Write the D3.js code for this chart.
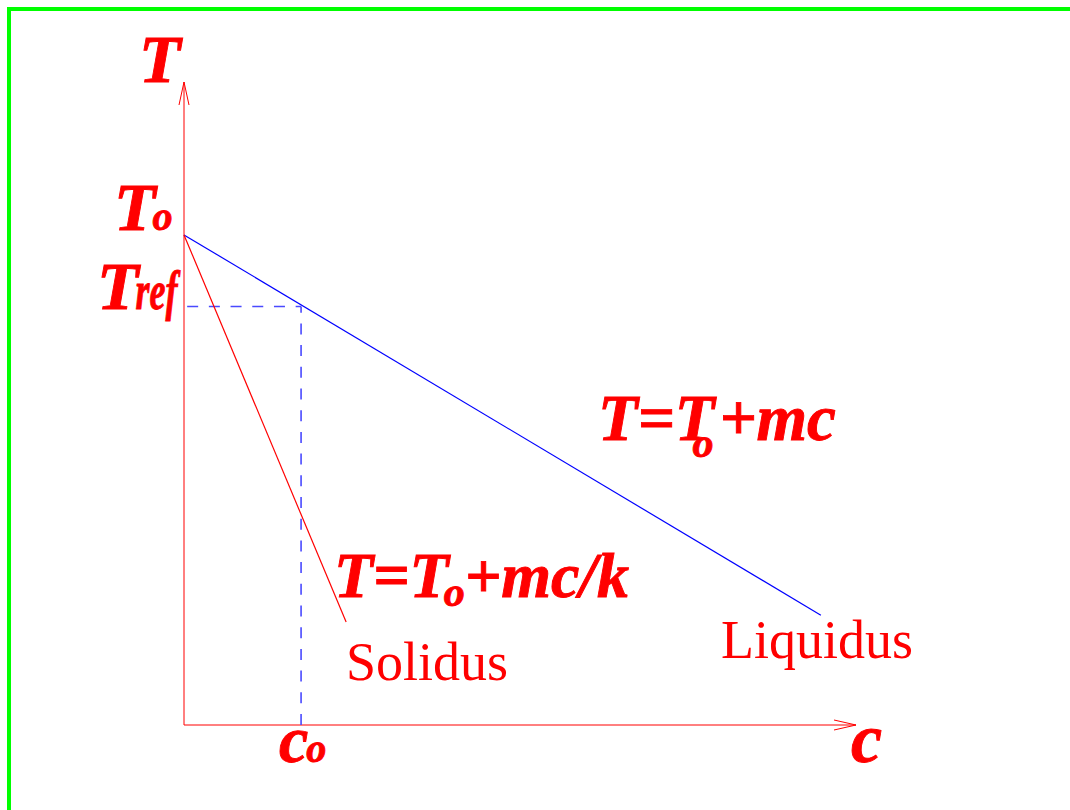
<!DOCTYPE html>
<html>
<head>
<meta charset="utf-8">
<script src="https://cdn.jsdelivr.net/npm/d3@7/dist/d3.min.js"></script>
<style>
  html, body { margin: 0; padding: 0; background: #fff; }
  svg { display: block; }
  text { font-family: "Liberation Serif", "Times New Roman", serif; fill: #ff0000; }
  .math { font-weight: bold; font-style: italic; stroke: #ff0000; stroke-width: 0.9; }
</style>
</head>
<body>
<svg id="chart" width="1070" height="810"></svg>
<script>
// Phase diagram: concentration c (horizontal) vs temperature T (vertical)
const cMax = 5.74;          // end of the c axis
const tMax = 1.312;         // end of the T axis
const T0 = 1.0;             // melting temperature of the pure solvent
const c0 = 1.0;             // alloy concentration
const Tref = 0.854;         // liquidus temperature at c0

// Liquidus: T = To + m c
const liquidusC = [0, 5.44];
const liquidusT = [1.0, 0.224];
// Solidus: T = To + m c / k
const solidusC = [0, 1.385];
const solidusT = [1.0, 0.21];

const svg = d3.select("#chart");

// frame lines along the top and left edges
svg.append("rect").attr("x", 7).attr("y", 7).attr("width", 1063).attr("height", 4).attr("fill", "#00ff00");
svg.append("rect").attr("x", 7).attr("y", 7).attr("width", 4).attr("height", 803).attr("fill", "#00ff00");

const x = d3.scaleLinear().domain([0, cMax]).range([184, 856]);
const y = d3.scaleLinear().domain([0, tMax]).range([725, 82]);

const line = d3.line().x(d => x(d[0])).y(d => y(d[1]));

// axes with open arrowheads
const axisColor = "#ff0000";
svg.append("path").attr("d", line([[0, 0], [cMax, 0]]))
  .attr("stroke", axisColor).attr("stroke-width", 1).attr("fill", "none");
svg.append("path").attr("d", line([[0, 0], [0, tMax]]))
  .attr("stroke", axisColor).attr("stroke-width", 1).attr("fill", "none");

const xe = x(cMax), ye = y(0);
svg.append("path")
  .attr("d", `M${xe - 22},${ye - 5} L${xe},${ye} L${xe - 22},${ye + 5}`)
  .attr("stroke", axisColor).attr("stroke-width", 1).attr("fill", "none");
const xt = x(0), yt = y(tMax);
svg.append("path")
  .attr("d", `M${xt - 5},${yt + 23} L${xt},${yt} L${xt + 5},${yt + 23}`)
  .attr("stroke", axisColor).attr("stroke-width", 1).attr("fill", "none");

// dashed guides from c0 up to the liquidus and across to Tref
svg.append("path").attr("d", line([[c0, 0], [c0, Tref]]))
  .attr("stroke", "#4a4aff").attr("stroke-width", 1.6).attr("fill", "none")
  .attr("stroke-dasharray", "11,10.7");
svg.append("path").attr("d", line([[0.027, Tref], [c0, Tref]]))
  .attr("stroke", "#4a4aff").attr("stroke-width", 1.6).attr("fill", "none")
  .attr("stroke-dasharray", "11,10.7");

// liquidus and solidus
svg.append("path").attr("d", line(liquidusC.map((c, i) => [c, liquidusT[i]])))
  .attr("stroke", "#0000ff").attr("stroke-width", 1.2).attr("fill", "none");
svg.append("path").attr("d", line(solidusC.map((c, i) => [c, solidusT[i]])))
  .attr("stroke", "#ff0000").attr("stroke-width", 1.2).attr("fill", "none");

// axis labels
svg.append("text").attr("class", "math").attr("x", 139).attr("y", 82)
  .attr("font-size", 68).text("T");
svg.append("text").attr("class", "math").attr("x", 851).attr("y", 762)
  .attr("font-size", 70).text("c");

// T0 label
const t0Label = svg.append("text").attr("class", "math").attr("x", 114).attr("y", y(T0) - 5);
t0Label.append("tspan").attr("font-size", 68).text("T");
t0Label.append("tspan").attr("font-size", 40).attr("dx", -3).text("o");

// Tref label
const trefLabel = svg.append("text").attr("class", "math").attr("x", 97).attr("y", y(Tref) + 3);
trefLabel.append("tspan").attr("font-size", 68).text("T");
trefLabel.append("tspan").attr("font-size", 54).attr("dx", -3)
  .attr("textLength", 42).attr("lengthAdjust", "spacingAndGlyphs").text("ref");

// c0 label
const c0Label = svg.append("text").attr("class", "math").attr("x", x(c0) - 22).attr("y", 762);
c0Label.append("tspan").attr("font-size", 66).text("c");
c0Label.append("tspan").attr("font-size", 40).attr("dx", -2).text("o");

// liquidus equation
const eqL = svg.append("text").attr("class", "math").attr("x", 598).attr("y", 440).attr("font-size", 65);
eqL.append("tspan").text("T=T");
eqL.append("tspan").attr("font-size", 42).attr("dx", -22).attr("dy", 17).text("o");
eqL.append("tspan").attr("dx", 6).attr("dy", -17).text("+mc");

// solidus equation
const eqS = svg.append("text").attr("class", "math").attr("x", 334).attr("y", 597).attr("font-size", 64);
eqS.append("tspan").text("T=T");
eqS.append("tspan").attr("font-size", 42).attr("dx", -5).attr("dy", 9).text("o");
eqS.append("tspan").attr("dx", 0).attr("dy", -9).text("+mc/k");

// curve names
svg.append("text").attr("x", 346).attr("y", 680).attr("font-size", 54).text("Solidus");
svg.append("text").attr("x", 721).attr("y", 658).attr("font-size", 54).text("Liquidus");
</script>
</body>
</html>
